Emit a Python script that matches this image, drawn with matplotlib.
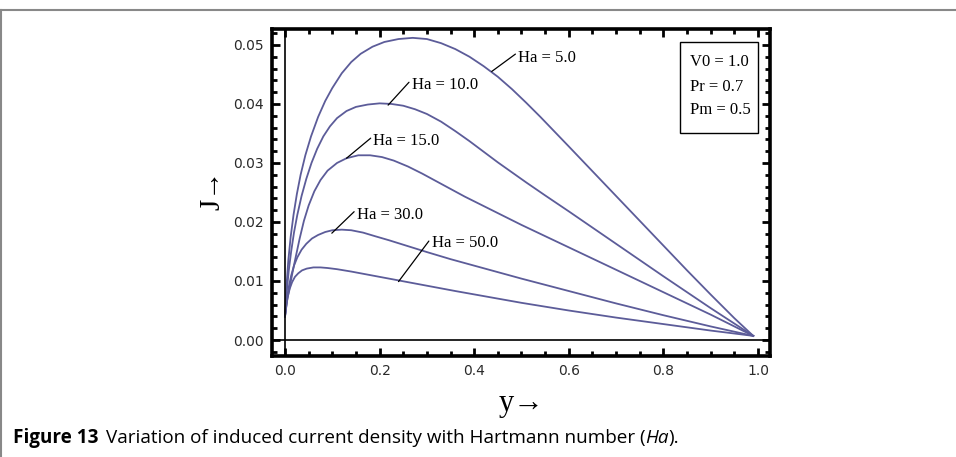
import matplotlib
matplotlib.use("Agg")
import matplotlib.pyplot as plt
from matplotlib.lines import Line2D
from matplotlib.patches import Rectangle
from matplotlib.ticker import MultipleLocator

# Curves: y position and induced current density J
y_ha5 = [0.0, 0.003, 0.007, 0.012, 0.018, 0.025, 0.033, 0.043, 0.055, 0.070,
         0.085, 0.100, 0.120, 0.140, 0.160, 0.185, 0.210, 0.240, 0.270, 0.300,
         0.330, 0.360, 0.390, 0.420, 0.450, 0.480, 0.510, 0.540, 0.570, 0.600,
         0.650, 0.700, 0.750, 0.800, 0.850, 0.900, 0.950, 0.990]
j_ha5 = [0.0040, 0.0090, 0.0135, 0.0175, 0.0212, 0.0247, 0.0280, 0.0313,
         0.0345, 0.0378, 0.0405, 0.0427, 0.0452, 0.0471, 0.0485, 0.0497,
         0.0505, 0.0510, 0.0512, 0.0510, 0.0503, 0.0493, 0.0480, 0.0464,
         0.0446, 0.0425, 0.0402, 0.0378, 0.0353, 0.0328, 0.0286, 0.0244,
         0.0202, 0.0160, 0.0118, 0.0077, 0.0037, 0.0007]

y_ha10 = [0.0, 0.004, 0.008, 0.013, 0.019, 0.026, 0.035, 0.045, 0.056, 0.068,
          0.081, 0.095, 0.110, 0.130, 0.150, 0.175, 0.200, 0.225, 0.250, 0.275,
          0.300, 0.330, 0.360, 0.390, 0.420, 0.450, 0.480, 0.510, 0.550, 0.600,
          0.700, 0.800, 0.900, 0.990]
j_ha10 = [0.0040, 0.0085, 0.0118, 0.0150, 0.0182, 0.0212, 0.0244, 0.0273,
          0.0300, 0.0324, 0.0345, 0.0362, 0.0376, 0.0388, 0.0395, 0.0399,
          0.0401, 0.0400, 0.0397, 0.0391, 0.0383, 0.0370, 0.0354, 0.0337,
          0.0319, 0.0301, 0.0284, 0.0267, 0.0245, 0.0218, 0.0163, 0.0108,
          0.0054, 0.0007]

y_ha15 = [0.0, 0.005, 0.010, 0.016, 0.023, 0.031, 0.040, 0.050, 0.062, 0.075,
          0.090, 0.110, 0.130, 0.155, 0.180, 0.205, 0.230, 0.260, 0.290, 0.320,
          0.350, 0.380, 0.420, 0.460, 0.500, 0.550, 0.600, 0.700, 0.800, 0.900,
          0.990]
j_ha15 = [0.0040, 0.0070, 0.0090, 0.0115, 0.0142, 0.0172, 0.0202, 0.0228,
          0.0252, 0.0271, 0.0287, 0.0300, 0.0308, 0.0313, 0.0313, 0.0310,
          0.0304, 0.0294, 0.0282, 0.0269, 0.0256, 0.0243, 0.0227, 0.0211,
          0.0195, 0.0176, 0.0157, 0.0119, 0.0081, 0.0043, 0.0007]

y_ha30 = [0.0, 0.004, 0.008, 0.013, 0.019, 0.026, 0.035, 0.045, 0.057, 0.070,
          0.085, 0.100, 0.120, 0.140, 0.165, 0.190, 0.220, 0.260, 0.300, 0.350,
          0.400, 0.450, 0.500, 0.600, 0.700, 0.800, 0.900, 0.990]
j_ha30 = [0.0040, 0.0068, 0.0090, 0.0109, 0.0126, 0.0140, 0.0153, 0.0163,
          0.0172, 0.0178, 0.0183, 0.0186, 0.0187, 0.0186, 0.0182, 0.0176,
          0.0169, 0.0159, 0.0149, 0.0137, 0.0126, 0.0115, 0.0104, 0.0083,
          0.0062, 0.0042, 0.0023, 0.0007]

y_ha50 = [0.0, 0.003, 0.006, 0.010, 0.015, 0.021, 0.028, 0.036, 0.046, 0.060,
          0.075, 0.090, 0.110, 0.140, 0.180, 0.240, 0.300, 0.360, 0.430, 0.500,
          0.600, 0.700, 0.800, 0.900, 0.990]
j_ha50 = [0.0040, 0.0060, 0.0074, 0.0087, 0.0098, 0.0107, 0.0113, 0.0118,
          0.0121, 0.0123, 0.0123, 0.0122, 0.0120, 0.0116, 0.0110, 0.0101,
          0.0092, 0.0083, 0.0073, 0.0063, 0.0050, 0.0038, 0.0027, 0.0016,
          0.0007]

# label text, point on curve, end of the pointer line
labels = ["Ha = 5.0", "Ha = 10.0", "Ha = 15.0", "Ha = 30.0", "Ha = 50.0"]
label_on_curve = [(0.437, 0.0455), (0.218, 0.0398), (0.130, 0.0308),
                  (0.099, 0.0181), (0.240, 0.0099)]
label_end = [(0.493, 0.0492), (0.268, 0.0446), (0.187, 0.0350),
             (0.152, 0.0226), (0.310, 0.0178)]

params = ["V0 = 1.0", "Pr = 0.7", "Pm = 0.5"]

curve_color = "#5c5c99"
serif = "Liberation Serif"

fig = plt.figure(figsize=(9.56, 4.57), dpi=100)
W, H = 956, 457
ax = fig.add_axes([272 / W, 1 - 356 / H, 498 / W, 327 / H])

for ys, js in [(y_ha5, j_ha5), (y_ha10, j_ha10), (y_ha15, j_ha15),
               (y_ha30, j_ha30), (y_ha50, j_ha50)]:
    ax.plot(ys, js, color=curve_color, lw=1.3, solid_joinstyle="round")

ax.axhline(0, color="black", lw=1.2)
ax.axvline(0, color="black", lw=1.2)

for text, p0, p1 in zip(labels, label_on_curve, label_end):
    ax.annotate(text, xy=p0, xytext=p1, ha="left", va="top",
                fontsize=12, family=serif,
                arrowprops=dict(arrowstyle="-", color="black", lw=0.9,
                                shrinkA=0, shrinkB=0, relpos=(0, 0.85)))

ax.set_xlim(-0.0275, 1.0254)
ax.set_ylim(-0.00271, 0.0527)
ax.xaxis.set_major_locator(MultipleLocator(0.2))
ax.xaxis.set_minor_locator(MultipleLocator(0.05))
ax.yaxis.set_major_locator(MultipleLocator(0.01))
ax.yaxis.set_minor_locator(MultipleLocator(0.002))
ax.xaxis.set_major_formatter(plt.FuncFormatter(lambda v, p: f"{v:.1f}"))
ax.yaxis.set_major_formatter(plt.FuncFormatter(lambda v, p: f"{v:.2f}"))
ax.tick_params(which="both", direction="in", top=True, right=True,
               labelsize=10, colors="black")
ax.tick_params(which="major", length=6, width=2, pad=6)
ax.tick_params(which="minor", length=3.5, width=2)
for lab in ax.get_xticklabels() + ax.get_yticklabels():
    lab.set_color("#2a2a2a")
for s in ax.spines.values():
    s.set_linewidth(2.6)

# parameter box
ax.add_patch(Rectangle((0.819, 0.682), 0.157, 0.278, transform=ax.transAxes,
                       fill=False, lw=1.0, edgecolor="black"))
for i, t in enumerate(params):
    ax.text(0.839, [0.900, 0.8235, 0.752][i], t, transform=ax.transAxes,
            ha="left", va="center", fontsize=12, family=serif)

# axis labels
fig.text(522 / W, 1 - 404 / H, "y→", ha="center", va="center",
         fontsize=22, family=serif)
fig.text(212 / W, 1 - 190 / H, "J→", ha="center", va="center",
         fontsize=21, family=serif, rotation=90)

# card border
fig.add_artist(Line2D([0, 1], [1 - 9.5 / H, 1 - 9.5 / H], color="#888888",
                      lw=1.5, transform=fig.transFigure))
fig.add_artist(Line2D([1 / W, 1 / W], [0, 1 - 9.5 / H], color="#888888",
                      lw=1.5, transform=fig.transFigure))

# caption
cap_size = 13.6
cap1 = fig.text(13 / W, 1 - 438 / H, "Figure 13", ha="left", va="center",
                fontsize=cap_size, family="Open Sans", weight="bold")
fig.canvas.draw()
bb = cap1.get_window_extent()
cap2 = fig.text((bb.x1 + 7) / W, 1 - 438 / H,
                "Variation of induced current density with Hartmann number (",
                ha="left", va="center", fontsize=cap_size, family="Open Sans")
fig.canvas.draw()
bb = cap2.get_window_extent()
cap3 = fig.text(bb.x1 / W, 1 - 438 / H, "Ha", ha="left", va="center",
                fontsize=cap_size, family="Open Sans", style="italic")
fig.canvas.draw()
bb = cap3.get_window_extent()
fig.text(bb.x1 / W, 1 - 438 / H, ").", ha="left", va="center",
         fontsize=cap_size, family="Open Sans")

fig.savefig("out.png", dpi=100)
